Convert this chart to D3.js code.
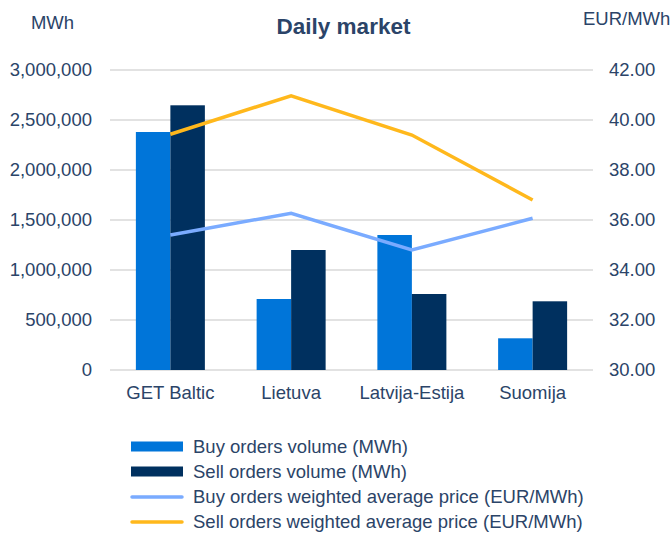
<!DOCTYPE html>
<html>
<head>
<meta charset="utf-8">
<script src="https://cdn.jsdelivr.net/npm/d3@7"></script>
<style>
  body { margin: 0; background: #fff; }
  text { font-family: 'Liberation Sans', Arial, sans-serif; fill: #2b4468; }
</style>
</head>
<body>
<svg id="chart" width="672" height="534"></svg>
<script>
const categories = ['GET Baltic', 'Lietuva', 'Latvija-Estija', 'Suomija']
const buyVolume = [2380000, 710000, 1350000, 317000]
const sellVolume = [2647000, 1200000, 760000, 687000]
const buyPrice = [35.4, 36.27, 34.8, 36.07]
const sellPrice = [39.43, 40.97, 39.4, 36.8]
const leftTicks = [0, 500000, 1000000, 1500000, 2000000, 2500000, 3000000]
const rightTicks = [30, 32, 34, 36, 38, 40, 42]
const seriesNames = ['Buy orders volume (MWh)', 'Sell orders volume (MWh)',
  'Buy orders weighted average price (EUR/MWh)', 'Sell orders weighted average price (EUR/MWh)']

const colors = { buy: '#0075d9', sell: '#00305f', buyLine: '#7aabff', sellLine: '#ffb81c' }
const fs = '18.5px'

const svg = d3.select('#chart')
const plotLeft = 110, plotRight = 593, plotTop = 70, plotBottom = 370

const x = d3.scaleBand().domain(categories).range([plotLeft, plotRight])
const yL = d3.scaleLinear().domain([0, 3000000]).range([plotBottom, plotTop])
const yR = d3.scaleLinear().domain([30, 42]).range([plotBottom, plotTop])
const barW = 34.5

// gridlines
svg.append('g').selectAll('line')
  .data(leftTicks)
  .join('line')
  .attr('x1', plotLeft).attr('x2', plotRight)
  .attr('y1', d => yL(d)).attr('y2', d => yL(d))
  .style('stroke', '#d9d9d9')
  .style('stroke-width', 1.5)

// left axis labels
svg.append('g').selectAll('text')
  .data(leftTicks)
  .join('text')
  .attr('x', 92)
  .attr('y', d => yL(d))
  .attr('dy', '0.35em')
  .style('text-anchor', 'end')
  .style('font-size', fs)
  .text(d => d3.format(',')(d))

// right axis labels
svg.append('g').selectAll('text')
  .data(rightTicks)
  .join('text')
  .attr('x', 609)
  .attr('y', d => yR(d))
  .attr('dy', '0.35em')
  .style('font-size', fs)
  .text(d => d3.format('.2f')(d))

// bars
const bars = svg.append('g')
bars.selectAll('.buy')
  .data(buyVolume)
  .join('rect')
  .attr('class', 'buy')
  .attr('x', (d, i) => x(categories[i]) + x.bandwidth() / 2 - barW)
  .attr('y', d => yL(d))
  .attr('width', barW)
  .attr('height', d => plotBottom - yL(d))
  .style('fill', colors.buy)
bars.selectAll('.sell')
  .data(sellVolume)
  .join('rect')
  .attr('class', 'sell')
  .attr('x', (d, i) => x(categories[i]) + x.bandwidth() / 2)
  .attr('y', d => yL(d))
  .attr('width', barW)
  .attr('height', d => plotBottom - yL(d))
  .style('fill', colors.sell)

// category labels
svg.append('g').selectAll('text')
  .data(categories)
  .join('text')
  .attr('x', d => x(d) + x.bandwidth() / 2)
  .attr('y', 393)
  .attr('dy', '0.35em')
  .style('text-anchor', 'middle')
  .style('font-size', fs)
  .text(d => d)

// price lines
const line = d3.line()
  .x((d, i) => x(categories[i]) + x.bandwidth() / 2)
  .y(d => yR(d))

svg.append('path')
  .datum(buyPrice)
  .attr('d', line)
  .style('fill', 'none')
  .style('stroke', colors.buyLine)
  .style('stroke-width', 3.5)

svg.append('path')
  .datum(sellPrice)
  .attr('d', line)
  .style('fill', 'none')
  .style('stroke', colors.sellLine)
  .style('stroke-width', 3.5)

// titles
svg.append('text')
  .attr('x', 343.5).attr('y', 26.5)
  .attr('dy', '0.35em')
  .style('text-anchor', 'middle')
  .style('font-size', '22.5px')
  .style('font-weight', 'bold')
  .text('Daily market')

svg.append('text')
  .attr('x', 52.5).attr('y', 22.5)
  .attr('dy', '0.35em')
  .style('text-anchor', 'middle')
  .style('font-size', fs)
  .text('MWh')

svg.append('text')
  .attr('x', 583).attr('y', 19)
  .attr('dy', '0.35em')
  .style('font-size', fs)
  .text('EUR/MWh')

// legend
const legend = svg.append('g')
const legendY = [446.5, 471.5, 497, 522]
seriesNames.forEach((name, i) => {
  const g = legend.append('g').attr('transform', `translate(131, ${legendY[i]})`)
  if (i < 2) {
    g.append('rect')
      .attr('x', 0).attr('y', -5)
      .attr('width', 52).attr('height', 10)
      .style('fill', i == 0 ? colors.buy : colors.sell)
  } else {
    g.append('line')
      .attr('x1', 1).attr('x2', 51)
      .attr('y1', 0).attr('y2', 0)
      .style('stroke', i == 2 ? colors.buyLine : colors.sellLine)
      .style('stroke-width', 3.5)
      .style('stroke-linecap', 'round')
  }
  g.append('text')
    .attr('x', 62).attr('y', 0)
    .attr('dy', '0.35em')
    .style('font-size', fs)
    .text(name)
})
</script>
</body>
</html>
